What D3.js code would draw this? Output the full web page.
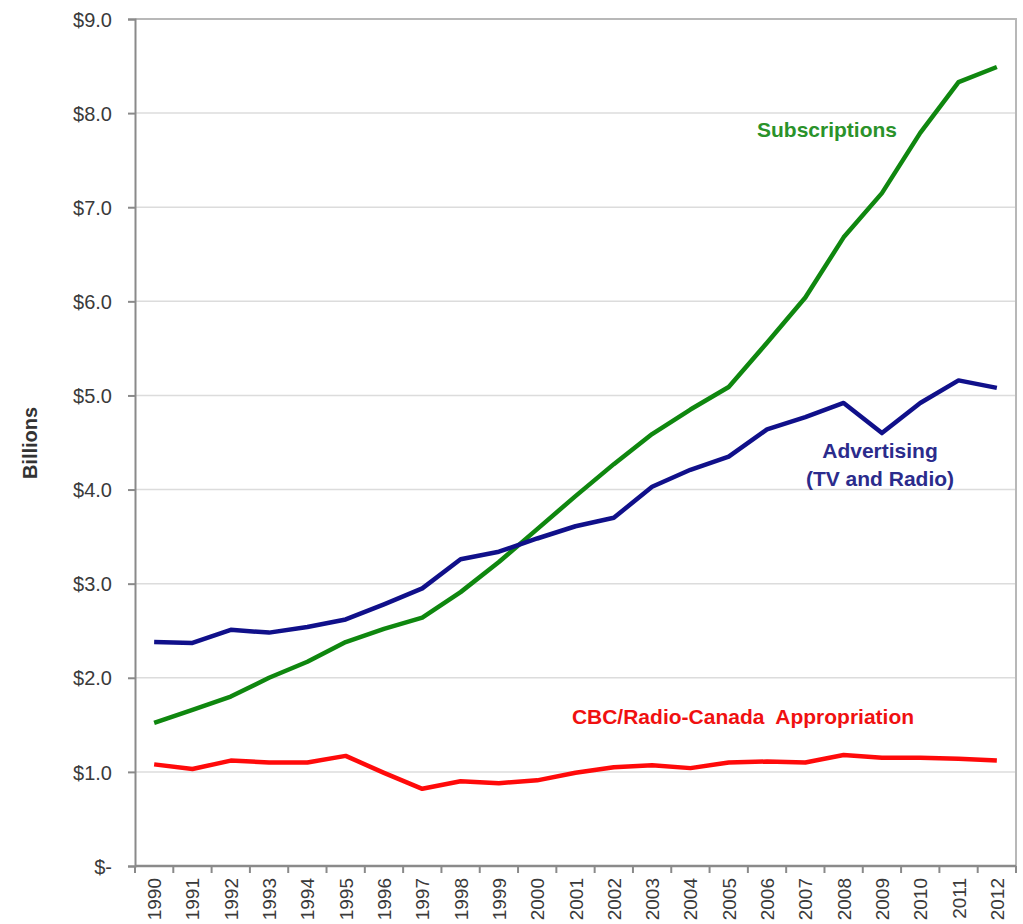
<!DOCTYPE html>
<html>
<head>
<meta charset="utf-8">
<script src="https://cdn.jsdelivr.net/npm/d3@7"></script>
<style>
  body { margin: 0; background: #fff; }
  svg { display: block; font-family: "Liberation Sans", Arial, sans-serif; }
</style>
</head>
<body>
<svg id="chart" width="1023" height="924"></svg>
<script>
// years on the x axis
var years = ["1990", "1991", "1992", "1993", "1994", "1995", "1996", "1997", "1998", "1999", "2000", "2001",
    "2002", "2003", "2004", "2005", "2006", "2007", "2008", "2009", "2010", "2011", "2012"];

// billions of dollars
var subscriptions = [1.52, 1.66, 1.80, 2.00, 2.17, 2.38, 2.52, 2.64, 2.91, 3.23, 3.58, 3.93,
    4.27, 4.59, 4.85, 5.09, 5.56, 6.04, 6.68, 7.15, 7.79, 8.33, 8.49];
var advertising = [2.38, 2.37, 2.51, 2.48, 2.54, 2.62, 2.78, 2.95, 3.26, 3.34, 3.48, 3.61,
    3.70, 4.03, 4.21, 4.35, 4.64, 4.77, 4.92, 4.60, 4.92, 5.16, 5.08];
var cbc = [1.08, 1.03, 1.12, 1.10, 1.10, 1.17, 0.99, 0.82, 0.90, 0.88, 0.91, 0.99,
    1.05, 1.07, 1.04, 1.10, 1.11, 1.10, 1.18, 1.15, 1.15, 1.14, 1.12];

var yTicks = [0, 1, 2, 3, 4, 5, 6, 7, 8, 9];

var series = [
    { name: "sub", values: subscriptions, color: "#0f870f" },
    { name: "adv", values: advertising, color: "#10108a" },
    { name: "cbc", values: cbc, color: "#ff0a0a" }
];

var svg = d3.select("#chart");
var plotLeft = 135, plotRight = 1016, plotTop = 19, plotBottom = 866;

var x = d3.scaleBand()
    .domain(years)
    .range([plotLeft, plotRight]);

var y = d3.scaleLinear()
    .domain([0, 9])
    .range([plotBottom, plotTop]);

// gridlines
svg.append("g")
    .selectAll("line")
    .data(yTicks.filter(function(d) { return d > 0; }))
    .enter()
    .append("line")
    .attr("x1", plotLeft)
    .attr("x2", plotRight)
    .attr("y1", function(d) { return y(d); })
    .attr("y2", function(d) { return y(d); })
    .attr("stroke", "#dcdcdc")
    .attr("stroke-width", 1.5);

// plot border (top + right)
svg.append("path")
    .attr("d", "M" + plotLeft + "," + plotTop + "H" + plotRight + "V" + plotBottom)
    .attr("fill", "none")
    .attr("stroke", "#b8b8b8")
    .attr("stroke-width", 2);

// y axis
var yAxis = d3.axisLeft(y)
    .tickValues(yTicks)
    .tickSize(7)
    .tickPadding(16)
    .tickFormat(function(d) { return d === 0 ? "$-" : "$" + d.toFixed(1); });

var gy = svg.append("g")
    .attr("transform", "translate(" + plotLeft + ",0)")
    .call(yAxis);
gy.select(".domain").attr("stroke", "#8a8a8a").attr("stroke-width", 2);
gy.selectAll(".tick line").attr("stroke", "#8a8a8a").attr("stroke-width", 2);
gy.selectAll("text")
    .attr("fill", "#3a3a3a")
    .style("font-size", "20px")
    .attr("dy", "0.36em");

// x axis: ticks on band edges, labels in band centers
svg.append("line")
    .attr("x1", plotLeft).attr("x2", plotRight)
    .attr("y1", plotBottom).attr("y2", plotBottom)
    .attr("stroke", "#8a8a8a").attr("stroke-width", 2.5);

var edges = years.map(function(d) { return x(d); }).concat([plotRight]);
svg.append("g")
    .selectAll("line")
    .data(edges)
    .enter()
    .append("line")
    .attr("x1", function(d) { return d; })
    .attr("x2", function(d) { return d; })
    .attr("y1", plotBottom)
    .attr("y2", plotBottom + 7)
    .attr("stroke", "#8a8a8a")
    .attr("stroke-width", 2);

svg.append("g")
    .selectAll("text")
    .data(years)
    .enter()
    .append("text")
    .attr("transform", function(d) {
        return "translate(" + (x(d) + x.bandwidth() / 2 + 7) + "," + (plotBottom + 12) + ") rotate(-90)";
    })
    .attr("text-anchor", "end")
    .attr("fill", "#3a3a3a")
    .style("font-size", "19px")
    .text(function(d) { return d; });

// lines
var line = d3.line()
    .x(function(d, i) { return x(years[i]) + x.bandwidth() / 2; })
    .y(function(d) { return y(d); });

svg.append("g")
    .selectAll("path")
    .data(series)
    .enter()
    .append("path")
    .attr("d", function(d) { return line(d.values); })
    .attr("fill", "none")
    .attr("stroke", function(d) { return d.color; })
    .attr("stroke-width", 4.5)
    .attr("stroke-linejoin", "round");

// labels
function label(txt, cx, cy, color) {
    svg.append("text")
        .attr("x", cx)
        .attr("y", cy)
        .attr("text-anchor", "middle")
        .attr("fill", color)
        .style("font-size", "21px")
        .style("font-weight", "bold")
        .style("white-space", "pre")
        .text(txt);
}
label("Subscriptions", 827, 137, "#2a922a");
label("Advertising", 880, 458, "#2b2b8c");
label("(TV and Radio)", 880, 486, "#2b2b8c");
label("CBC/Radio-Canada  Appropriation", 743, 724, "#f01010");

svg.append("text")
    .attr("transform", "translate(37,443) rotate(-90)")
    .attr("text-anchor", "middle")
    .attr("fill", "#333")
    .style("font-size", "20px")
    .style("font-weight", "bold")
    .text("Billions");
</script>
</body>
</html>
